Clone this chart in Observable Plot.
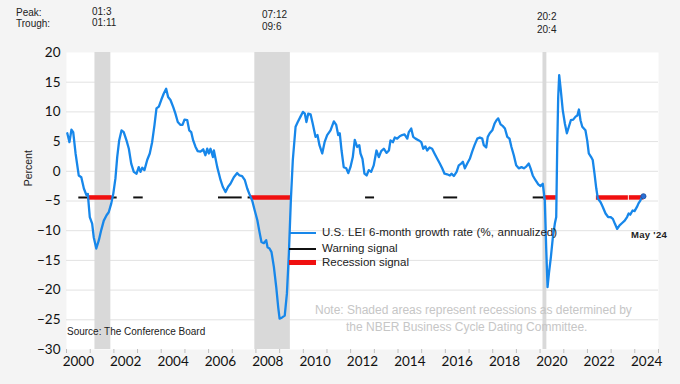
<!DOCTYPE html>
<html><head><meta charset="utf-8">
<script src="https://cdn.jsdelivr.net/npm/d3@7"></script>
<script src="https://cdn.jsdelivr.net/npm/@observablehq/plot@0.6"></script>
<style>
html,body{margin:0;padding:0;background:#f4f4f4;}
#wrap{position:relative;width:680px;height:384px;overflow:hidden;font-family:"Liberation Sans",Arial,sans-serif;}
#wrap svg{position:absolute;left:0;top:0;}
.ann{position:absolute;white-space:nowrap;color:#222;line-height:1;}
</style></head><body><div id="wrap"></div>
<script>
// ---- data ----
// U.S. LEI 6-month growth rate (%, annualized); position in months after Jan 2000
const monthOffset = [0.4,1.5,2.5,3.4,4.6,6.2,7.5,8.8,10.1,10.8,11.8,13.0,13.8,15.1,16.4,17.6,18.9,20.3,21.4,22.7,23.7,24.8,25.7,26.7,27.9,29.0,30.4,31.6,32.8,34.1,35.5,36.6,37.5,38.4,39.5,40.9,42.2,43.4,44.6,45.6,46.8,48.0,49.3,50.5,51.5,52.7,54.1,55.2,56.4,57.8,58.8,59.8,61.2,62.2,63.2,64.2,65.4,66.5,67.9,69.3,70.4,71.3,72.1,73.0,74.2,74.7,76.4,78.1,79.2,80.6,81.9,83.1,84.8,86.5,87.7,89.0,90.4,91.6,92.9,94.1,95.4,96.7,97.8,98.8,100.0,101.2,101.9,102.9,103.9,105.1,106.3,107.3,108.0,109.3,110.6,111.7,112.7,113.7,114.7,116.1,117.2,118.6,119.8,120.8,121.6,122.5,123.7,124.8,126.2,127.2,128.2,129.6,130.8,132.1,133.8,135.5,136.7,137.7,138.5,139.4,140.5,141.8,142.8,143.9,145.1,146.1,147.3,148.4,149.0,150.0,151.0,152.1,153.2,154.4,155.7,157.1,158.3,159.5,160.8,162.2,163.4,164.2,165.4,166.4,167.6,168.9,170.1,171.3,172.7,173.5,174.7,175.7,176.9,178.6,179.8,180.8,181.9,182.8,184.0,185.3,186.5,187.9,189.2,190.4,191.6,192.9,194.3,195.1,196.3,197.7,198.8,200.0,200.9,201.9,203.1,204.4,205.6,206.8,208.2,209.5,210.7,211.5,212.7,213.5,214.5,215.8,216.9,217.9,218.8,220.0,221.2,222.2,223.4,224.5,225.5,226.7,227.9,229.2,230.6,231.8,233.0,234.3,235.2,236.3,237.7,239.1,240.2,241.4,242.4,243.1,243.8,244.5,245.5,246.5,247.5,248.2,248.7,249.2,249.7,250.5,251.5,252.6,253.6,254.6,255.6,256.8,258.0,258.9,259.7,260.5,261.4,262.2,263.0,263.9,264.7,265.9,266.7,267.6,268.5,269.3,270.7,271.8,273.2,274.5,275.7,276.9,277.9,279.1,280.3,281.6,282.9,284.1,284.9,285.7,286.9,287.9,289.1,289.9,290.9,291.6,292.4];
const lei = [6.4,4.9,7.0,6.6,3.0,-0.7,-1.0,-2.9,-4.0,-3.8,-7.7,-8.8,-11.1,-13.0,-11.6,-9.9,-8.3,-7.4,-6.9,-5.4,-3.8,-1.2,2.4,5.2,6.9,6.6,5.2,3.8,1.3,-0.1,-0.4,0.7,-0.1,0.6,0.2,1.9,3.0,4.9,7.8,10.6,10.9,12.0,13.1,13.9,12.5,12.0,10.8,9.7,8.3,7.8,7.8,8.7,8.6,6.9,6.6,5.2,4.1,3.4,3.3,3.7,2.7,3.8,3.0,3.8,2.4,3.5,0.7,-1.5,-2.6,-3.5,-2.6,-2.1,-1.0,-0.3,-0.7,-0.8,-1.5,-2.9,-4.0,-4.9,-6.6,-8.2,-10.2,-11.9,-12.1,-11.6,-12.8,-13.0,-13.6,-16.1,-19.5,-22.9,-24.8,-24.6,-24.3,-20.6,-13.9,-4.9,1.9,7.5,8.3,9.2,10.0,9.7,8.3,9.7,9.6,8.0,5.8,6.1,4.4,3.0,4.9,6.1,6.9,8.4,7.8,6.1,6.4,3.5,0.7,0.5,-0.3,0.7,2.4,5.3,4.1,4.4,3.0,2.1,-0.4,-0.7,0.2,-0.1,1.0,3.5,2.4,3.4,3.8,3.1,3.5,5.2,4.9,5.7,5.5,5.9,6.1,6.2,5.5,6.6,7.2,5.8,5.5,5.2,4.9,3.8,4.2,3.5,4.0,3.8,3.0,2.1,1.3,0.5,-0.4,-0.5,-0.7,-0.4,-0.8,-0.1,1.0,1.3,1.6,0.5,1.3,2.1,3.3,4.4,5.5,5.7,5.5,4.4,4.0,5.8,6.4,6.9,8.0,8.6,8.9,7.9,7.6,7.2,5.8,5.5,4.1,2.7,1.0,0.5,0.7,0.5,0.8,1.3,0.5,-0.7,-1.5,-2.2,-2.5,-2.1,-4.9,-12.8,-19.5,-17.2,-14.4,-11.1,-8.8,-7.7,4.1,12.5,16.2,13.7,10.3,8.0,6.4,7.5,8.6,8.7,9.2,9.4,10.4,8.6,7.5,7.2,6.9,5.2,3.0,2.4,1.9,-0.4,-2.9,-4.6,-5.2,-6.0,-7.1,-7.7,-7.7,-8.0,-8.8,-9.7,-9.1,-8.7,-8.3,-7.7,-7.1,-7.3,-6.6,-6.7,-6.0,-5.4,-4.9,-4.3,-4.2];

// NBER recessions (peak / trough months)
const recPeak = ["2001-03", "2007-12", "2020-02"];
const recTrough = ["2001-11", "2009-06", "2020-04"];
const peakLabels = ["01:3", "07:12", "20:2"];
const troughLabels = ["01:11", "09:6", "20:4"];

// Signal segments (decimal years) drawn at the -4.4 level
const signalLevel = -4.4;
const warnStart = [2000.52, 2002.84, 2006.42, 2007.67, 2012.63, 2015.93, 2019.71];
const warnEnd   = [2002.14, 2003.24, 2007.42, 2007.80, 2013.01, 2016.52, 2020.16];
const recSigStart = [2000.90, 2007.80, 2020.16, 2022.38, 2023.77];
const recSigEnd   = [2001.93, 2009.53, 2020.69, 2023.73, 2024.38];

// axis ticks
const yTicks = [-30, -25, -20, -15, -10, -5, 0, 5, 10, 15, 20];
const xLabelYears = [2000, 2002, 2004, 2006, 2008, 2010, 2012, 2014, 2016, 2018, 2020, 2022, 2024];

// ---- helpers ----
const DAY = 864e5;
const fromYear = y => new Date(Date.UTC(2000, 0, 1) + (y - 2000) * 365.2425 * DAY);
const fromMonthOffset = n => fromYear(2000 + n / 12);
const midMonth = s => { const [y, m] = s.split("-").map(Number); return new Date(Date.UTC(y, m - 1, 15)); };

const series = monthOffset.map((n, i) => ({date: fromMonthOffset(n), value: lei[i]}));
const recessions = recPeak.map((p, i) => ({start: midMonth(p), end: midMonth(recTrough[i])}));
const warnings = warnStart.map((s, i) => ({x1: fromYear(s), x2: fromYear(warnEnd[i]), y: signalLevel}));
const recSignals = recSigStart.map((s, i) => ({x1: fromYear(s), x2: fromYear(recSigEnd[i]), y: signalLevel}));
const yearBounds = d3.range(2000, 2026).map(y => new Date(Date.UTC(y, 0, 1)));
const labelDates = xLabelYears.map(y => new Date(Date.UTC(y, 6, 2)));

const chart = Plot.plot({
  width: 680, height: 384,
  marginTop: 52, marginBottom: 35, marginLeft: 66, marginRight: 22,
  style: {background: "transparent", fontFamily: "Lato, sans-serif", fontSize: "13.5px", color: "#111", overflow: "visible"},
  x: {type: "utc", domain: [new Date(Date.UTC(2000, 0, 1)), new Date(Date.UTC(2025, 0, 1))]},
  y: {domain: [-30, 20]},
  marks: [
    Plot.frame({fill: "white", stroke: "none"}),
    Plot.ruleY(yTicks.filter(d => d > -30 && d < 20), {stroke: "#e2e2e2", strokeWidth: 1}),
    Plot.rect(recessions, {x1: "start", x2: "end", fill: "#d9d9d9"}),
    Plot.axisY({ticks: yTicks, tickSize: 0, tickPadding: 6, label: null, fill: "#111"}),
    Plot.axisX({ticks: yearBounds, tickSize: 4, tickFormat: () => "", label: null, stroke: "#bdbdbd"}),
    Plot.axisX({ticks: labelDates, tickSize: 0, tickPadding: 7, tickFormat: d3.utcFormat("%Y"), label: null, fill: "#111"}),
    Plot.ruleY(warnings, {x1: "x1", x2: "x2", y: "y", stroke: "#111", strokeWidth: 2}),
    Plot.ruleY(recSignals, {x1: "x1", x2: "x2", y: "y", stroke: "#f01010", strokeWidth: 4.5}),
    Plot.line(series, {x: "date", y: "value", stroke: "#1787ea", strokeWidth: 2.3, strokeLinejoin: "round"}),
    Plot.dot(series.slice(-1), {x: "date", y: "value", r: 2.6, fill: "#2a6fd6", stroke: "#1d4f9a", strokeWidth: 0.8})
  ]
});

const wrap = document.getElementById("wrap");
wrap.appendChild(chart);

function ann(text, left, centerY, size, extra = {}) {
  const d = document.createElement("div");
  d.className = "ann";
  d.textContent = text;
  d.style.left = left + "px";
  d.style.top = (centerY - size / 2) + "px";
  d.style.fontSize = size + "px";
  d.style.lineHeight = size + "px";
  Object.assign(d.style, extra);
  wrap.appendChild(d);
  return d;
}
function swatch(left, y, w, h, color) {
  const d = document.createElement("div");
  Object.assign(d.style, {position: "absolute", left: left + "px", top: (y - h / 2) + "px", width: w + "px", height: h + "px", background: color});
  wrap.appendChild(d);
}

// peak / trough header
ann("Peak:", 16, 13, 10);
ann("Trough:", 16, 24, 10);
const labelPos = [[92, 11.7, 23.3], [262, 15, 27.3], [537, 16.7, 29.5]];
peakLabels.forEach((t, i) => {
  ann(t, labelPos[i][0], labelPos[i][1], 10);
  ann(troughLabels[i], labelPos[i][0], labelPos[i][2], 10);
});

// y title
ann("Percent", 10, 168, 10.5, {transform: "rotate(-90deg)", transformOrigin: "center", width: "40px", textAlign: "center", left: "8px"});

// legend
swatch(289, 233.3, 27, 2, "#1787ea");
swatch(289, 248.5, 27, 2, "#111");
swatch(289, 262.7, 27, 4.5, "#f01010");
ann("U.S. LEI 6-month growth rate (%, annualized)", 322, 233, 11.5, {wordSpacing: "0.5px"});
ann("Warning signal", 322, 248.3, 11.5);
ann("Recession signal", 322, 262.7, 11.5);

// end label
ann("May '24", 631, 235, 9.5, {fontWeight: "bold", letterSpacing: "0.3px"});

// note and source
ann("Note: Shaded areas represent recessions as determined by", 315, 310, 12, {color: "#c6c6c6"});
ann("the NBER Business Cycle Dating Committee.", 346, 327, 12, {color: "#c6c6c6"});
ann("Source: The Conference Board", 67, 331.5, 10);
</script></body></html>
